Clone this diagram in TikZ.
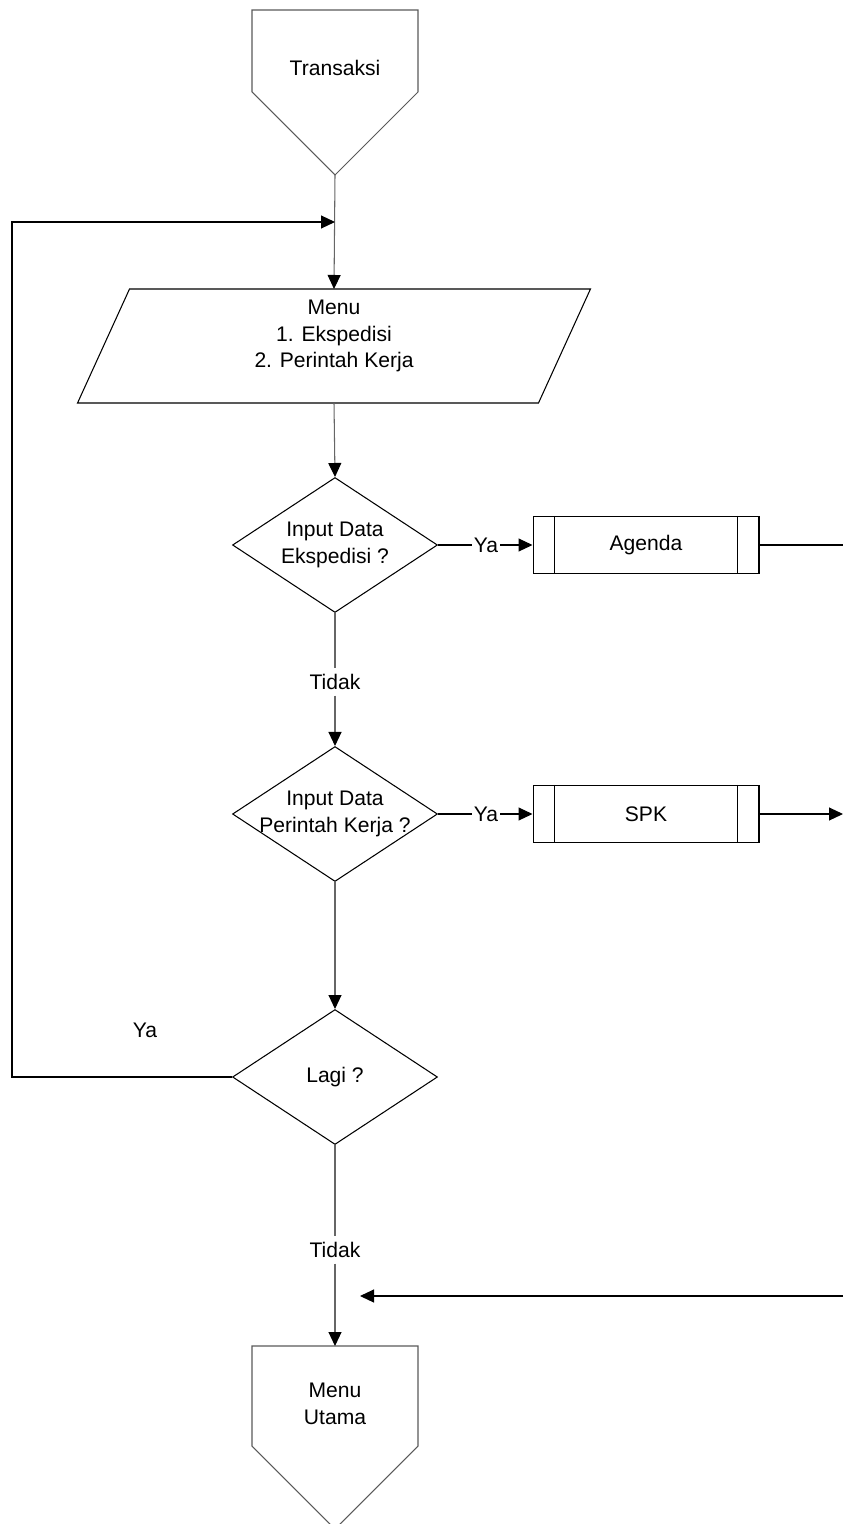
\documentclass[tikz,border=0pt]{standalone}
\usepackage{fontspec}
\setmainfont{Liberation Sans}
\usetikzlibrary{shapes.geometric,arrows.meta}
\begin{document}
\begin{tikzpicture}[x=0.02cm,y=-0.02cm,line width=0.6pt,font=\fontsize{12}{15}\selectfont,
	>={Triangle[length=0.28cm,width=0.26cm]},
	decision/.style={diamond,draw,minimum width=4.1cm,minimum height=2.7cm,inner sep=0pt},
	proc/.style={rectangle,draw,minimum width=4.52cm,minimum height=1.14cm,inner sep=0pt},
	txt/.style={inner sep=1pt,align=center},
	lbl/.style={inner xsep=1pt,inner ysep=3pt},
	line/.style={draw=gray!80!black},
	flow/.style={draw=gray!80!black,-{Triangle[length=0.28cm,width=0.26cm,color=black]}}]
	\useasboundingbox (0,0) rectangle (843,1524);
	\path 
	(12,1077) coordinate (loopA)
	(12,222) coordinate (loopB)
	(335,222) coordinate (loopC)
	(843,545) coordinate (agOut)
	(843,814) coordinate (spkOut)
	(843,1296) coordinate (backIn)
	(360,1296) coordinate (backEnd)
	(335,1346) coordinate (muIn)
	;
	% konektor awal dan akhir
	\draw[gray!70!black] (252,10) -- (418,10) -- (418,92) -- (335,175) coordinate (trTip) -- (252,92) -- cycle;
	\node[txt] (transaksi) at (335,68) {Transaksi};
	\draw[gray!70!black] (252,1346) -- (418,1346) -- (418,1446) -- (335,1529) -- (252,1446) -- cycle;
	\node[txt] (menuUtama) at (335,1404) {Menu\\Utama};
	% menu
	\node[minimum width=10.24cm,minimum height=2.26cm,inner sep=0pt,
		label={[txt,yshift=0.2cm]center:Menu\\1. Ekspedisi\\2. Perintah Kerja}] (menu) at (334,346) {};
	\draw ([xshift=1.04cm]menu.north west) -- (menu.north east)
		-- ([xshift=-1.04cm]menu.south east) -- (menu.south west) -- cycle;
	% keputusan
	\node[decision,label={[txt]center:Input Data\\Ekspedisi ?}] (ekspedisi) at (335,545) {};
	\node[decision,label={[txt]center:Input Data\\Perintah Kerja ?}] (perintah) at (335,814) {};
	\node[decision,label={[txt]center:Lagi ?}] (lagi) at (335,1077) {};
	% proses
	\node[proc] (agenda) at (646,545) {Agenda};
	\node[proc] (spk) at (646,814) {SPK};
	\foreach \b in {agenda,spk}{
		\draw ([xshift=0.44cm]\b.north west) -- ([xshift=0.44cm]\b.south west);
		\draw ([xshift=-0.44cm]\b.north east) -- ([xshift=-0.44cm]\b.south east);
	}
	% label
	\node[lbl] (ya1) at (486,545) {Ya};
	\node[lbl] (ya2) at (486,814) {Ya};
	\node[lbl] (tidak1) at (335,682) {Tidak};
	\node[lbl] (tidak2) at (335,1250) {Tidak};
	\node[txt] (ya3) at (145,1030) {Ya};
	% alur
	\draw[flow] (trTip) -- (menu.north);
	\draw[flow] (menu.south) -- (ekspedisi.north);
	\draw (ekspedisi.east) -- (ya1);
	\draw[->] (ya1) -- (agenda.west);
	\draw (agenda.east) -- (agOut);
	\draw[line] (ekspedisi.south) -- (tidak1);
	\draw[flow] (tidak1) -- (perintah.north);
	\draw (perintah.east) -- (ya2);
	\draw[->] (ya2) -- (spk.west);
	\draw[->] (spk.east) -- (spkOut);
	\draw[flow] (perintah.south) -- (lagi.north);
	\draw[->] (lagi.west) -- (loopA) -- (loopB) -- (loopC);
	\draw[line] (lagi.south) -- (tidak2);
	\draw[flow] (tidak2) -- (muIn);
	\draw[->] (backIn) -- (backEnd);
\end{tikzpicture}
\end{document}
